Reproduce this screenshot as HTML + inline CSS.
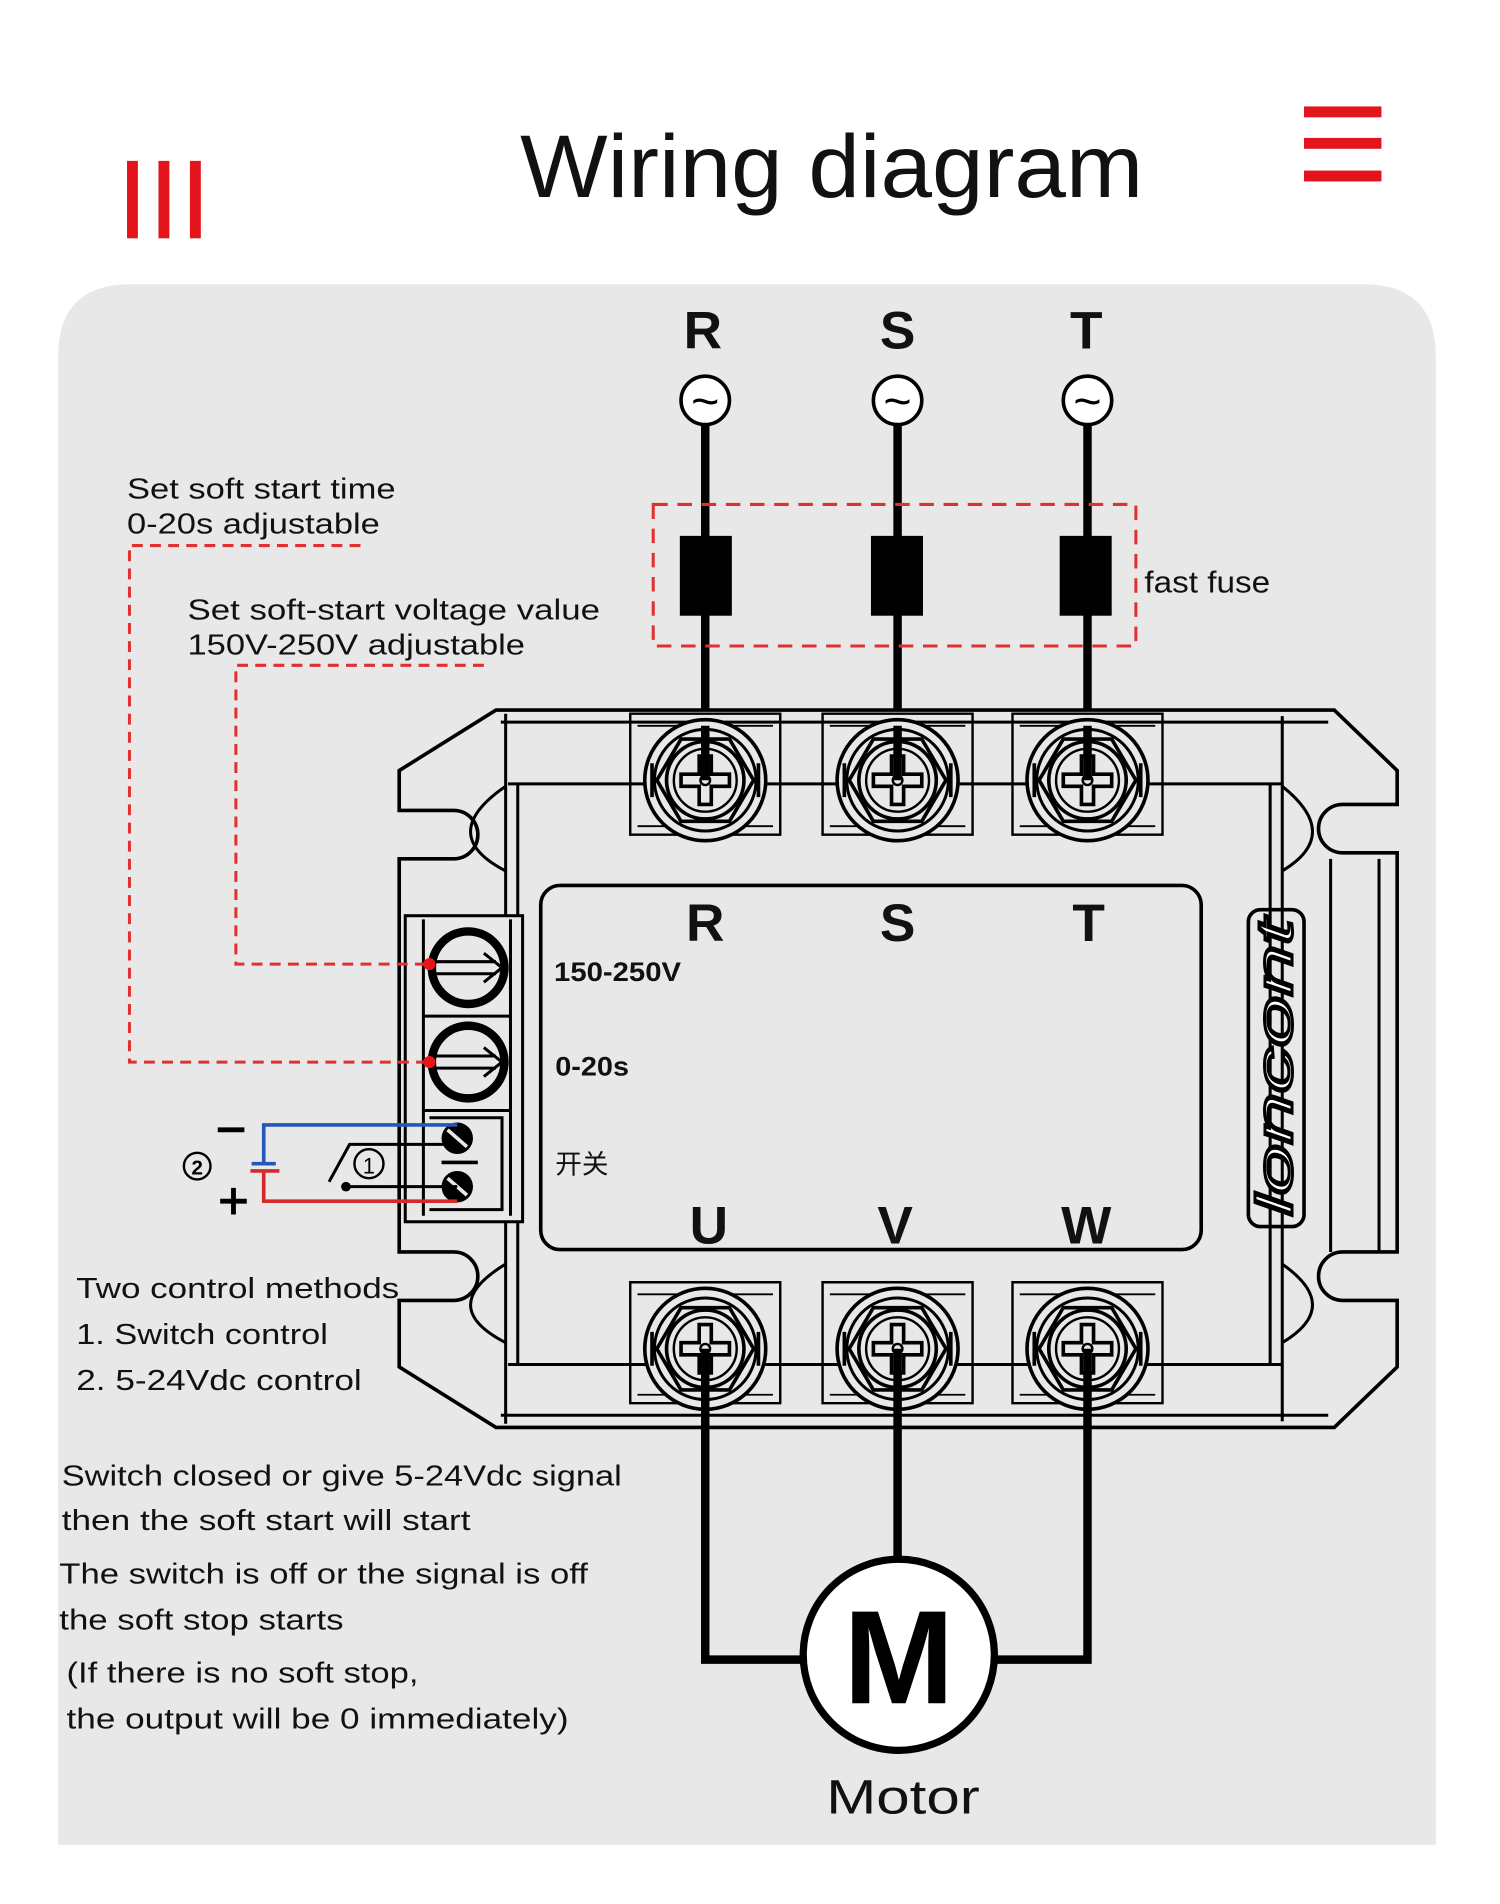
<!DOCTYPE html>
<html><head><meta charset="utf-8"><style>
html,body{margin:0;padding:0;background:#fff;}
svg{display:block;}
text{font-family:"Liberation Sans","Noto Sans CJK SC",sans-serif;}
</style></head><body>
<svg width="1500" height="1904" viewBox="0 0 1240 1574" xmlns="http://www.w3.org/2000/svg">
<defs>
<g id="term">
  <path d="M-62,-55 L62,-55 L62,45 L-62,45 Z" fill="none" stroke="#000" stroke-width="2"/>
  <path d="M-56,-45 L56,-45 M-56,38 L56,38" stroke="#000" stroke-width="1.5"/>
  <circle r="50" fill="#e8e8e8" stroke="#000" stroke-width="3"/>
  <path d="M-44,-14 L-44,14 M44,-14 L44,14" stroke="#000" stroke-width="3"/>
  <circle r="42" fill="none" stroke="#000" stroke-width="2.5"/>
  <polygon points="-40,0 -20,-34 20,-34 40,0 20,34 -20,34" fill="none" stroke="#000" stroke-width="3"/>
  <circle r="32" fill="none" stroke="#000" stroke-width="3"/>
  <circle r="26" fill="none" stroke="#000" stroke-width="2"/>
  <path d="M-5,-20 h10 v15 h15 v10 h-15 v15 h-10 v-15 h-15 v-10 h15 z" fill="#e8e8e8" stroke="#000" stroke-width="3"/>
  <circle r="4" fill="none" stroke="#000" stroke-width="2"/>
</g>
</defs>
<rect width="1240" height="1574" fill="#fff"/>
<path d="M48,1525 L48,295 Q48,235 108,235 L1127,235 Q1187,235 1187,295 L1187,1525 Z" fill="#e8e8e8"/>
<rect x="105" y="133" width="9" height="64" fill="#e3141b"/>
<rect x="131" y="133" width="9" height="64" fill="#e3141b"/>
<rect x="157" y="133" width="9" height="64" fill="#e3141b"/>
<rect x="1078" y="88" width="64" height="9" fill="#e3141b"/>
<rect x="1078" y="114" width="64" height="9" fill="#e3141b"/>
<rect x="1078" y="141" width="64" height="9" fill="#e3141b"/>
<text x="430" y="163" font-size="74" fill="#111" textLength="515" lengthAdjust="spacingAndGlyphs">Wiring diagram</text>

<g font-size="44" font-weight="bold" text-anchor="middle" fill="#111">
<text x="581" y="288">R</text><text x="742" y="288">S</text><text x="898" y="288">T</text>
</g>
<g fill="#fff" stroke="#000" stroke-width="3">
<circle cx="583" cy="331" r="20"/><circle cx="742" cy="331" r="20"/><circle cx="899" cy="331" r="20"/>
</g>
<g font-size="40" text-anchor="middle"><text x="583" y="345">~</text><text x="742" y="345">~</text><text x="899" y="345">~</text></g>
<g stroke="#000" stroke-width="7">
<line x1="583" y1="351" x2="583" y2="645"/><line x1="742" y1="351" x2="742" y2="645"/><line x1="899" y1="351" x2="899" y2="645"/>
</g>
<rect x="540" y="417" width="399" height="117" fill="none" stroke="#e03030" stroke-width="2.5" stroke-dasharray="12,8"/>
<rect x="562" y="443" width="43" height="66" fill="#000"/>
<rect x="720" y="443" width="43" height="66" fill="#000"/>
<rect x="876" y="443" width="43" height="66" fill="#000"/>
<text x="946" y="490" font-size="25" fill="#111" textLength="104" lengthAdjust="spacingAndGlyphs">fast fuse</text>

<path d="M410,587 L1103,587 L1155,637 L1155,665 L1110,665 A20,20 0 0 0 1110,705 L1155,705 L1155,1035 L1110,1035 A20,20 0 0 0 1110,1075 L1155,1075 L1155,1130 L1103,1180 L410,1180 L330,1130 L330,1075 L375,1075 A20,20 0 0 0 375,1035 L330,1035 L330,710 L375,710 A20,20 0 0 0 375,670 L330,670 L330,637 Z" fill="#e8e8e8" stroke="#000" stroke-width="3"/>
<g fill="none" stroke="#000" stroke-width="2.5">
<path d="M414,597 L1098,597 M420,648 L1060,648 M420,1128 L1060,1128 M414,1170 L1098,1170"/>
<path d="M418,590 L418,1177 M428,648 L428,1128 M1060,592 L1060,1175 M1050,648 L1050,1128"/>
<path d="M418,720 Q360,690 418,650 M418,1045 Q360,1080 418,1110"/>
<path d="M1060,720 Q1110,690 1060,650 M1060,1045 Q1110,1080 1060,1110"/>
<path d="M1100,710 L1100,1035 M1140,710 L1140,1035"/>
</g>
<rect x="447" y="732" width="546" height="301" rx="16" fill="none" stroke="#000" stroke-width="3"/>
<g font-size="44" font-weight="bold" text-anchor="middle" fill="#111">
<text x="583" y="778">R</text><text x="742" y="778">S</text><text x="900" y="778">T</text>
<text x="586" y="1028">U</text><text x="740" y="1028">V</text><text x="898" y="1028">W</text>
</g>
<rect x="1032" y="752" width="46" height="262" rx="10" fill="none" stroke="#000" stroke-width="3"/>
<text transform="translate(1068,1005) rotate(-90)" font-size="42" font-style="italic" fill="#fff" stroke="#000" stroke-width="2.5" textLength="245" lengthAdjust="spacingAndGlyphs">loncont</text>

<use href="#term" x="583" y="645"/><use href="#term" x="742" y="645"/><use href="#term" x="899" y="645"/>
<use href="#term" x="583" y="1115"/><use href="#term" x="742" y="1115"/><use href="#term" x="899" y="1115"/>
<g stroke="#000" stroke-width="7">
<line x1="583" y1="600" x2="583" y2="645"/><line x1="742" y1="600" x2="742" y2="645"/><line x1="899" y1="600" x2="899" y2="645"/>
</g>

<rect x="335" y="757" width="97" height="253" fill="#e8e8e8" stroke="#000" stroke-width="2.5"/>
<g fill="none" stroke="#000" stroke-width="2.5">
<path d="M350,760 L350,1005 M422,760 L422,1005 M350,840 L422,840 M350,918 L422,918 M355,924 L415,924 L415,1000 L355,1000"/>
</g>
<g fill="none" stroke="#000" stroke-width="7"><circle cx="387" cy="800" r="30"/><circle cx="387" cy="878" r="30"/></g>
<g fill="none" stroke="#000" stroke-width="2.5"><path d="M360,795 L410,795 M360,805 L410,805 M400,788 L415,800 L400,812 M360,873 L410,873 M360,883 L410,883 M400,866 L415,878 L400,890"/></g>
<g fill="#000"><circle cx="378" cy="941" r="13"/><circle cx="378" cy="981" r="13"/></g>
<g stroke="#e8e8e8" stroke-width="3"><line x1="370" y1="934" x2="386" y2="948"/><line x1="370" y1="974" x2="386" y2="988"/></g>
<line x1="365" y1="961" x2="395" y2="961" stroke="#000" stroke-width="3"/>
<g font-size="22" font-weight="bold" fill="#111">
<text x="458" y="811" textLength="105" lengthAdjust="spacingAndGlyphs">150-250V</text><text x="459" y="889" textLength="61" lengthAdjust="spacingAndGlyphs">0-20s</text><text x="459" y="970" font-weight="normal">开关</text>
</g>

<g fill="none" stroke="#e03030" stroke-width="2.5" stroke-dasharray="9,6">
<path d="M298,451 L107,451 L107,878 L355,878"/>
<path d="M400,550 L195,550 L195,797 L355,797"/>
</g>
<circle cx="355" cy="797" r="5" fill="#e8161b"/><circle cx="355" cy="878" r="5" fill="#e8161b"/>
<g font-size="24" fill="#111" lengthAdjust="spacingAndGlyphs">
<text x="105" y="412" textLength="222" lengthAdjust="spacingAndGlyphs">Set soft start time</text>
<text x="105" y="441" textLength="209" lengthAdjust="spacingAndGlyphs">0-20s adjustable</text>
<text x="155" y="512" textLength="341" lengthAdjust="spacingAndGlyphs">Set soft-start voltage value</text>
<text x="155" y="541" textLength="279" lengthAdjust="spacingAndGlyphs">150V-250V adjustable</text>
</g>

<path d="M378,930 L218,930 L218,962 M208,962 L228,962" fill="none" stroke="#2557b8" stroke-width="3"/>
<path d="M378,993 L218,993 L218,968 M207,968 L231,968" fill="none" stroke="#d42a2a" stroke-width="3"/>
<path d="M378,946 L289,946 L272,977 M286,981 L378,981" fill="none" stroke="#000" stroke-width="2.5"/>
<circle cx="286" cy="981" r="4" fill="#000"/>
<circle cx="305" cy="962" r="12" fill="none" stroke="#000" stroke-width="2"/>
<text x="305" y="970" font-size="18" text-anchor="middle">1</text>
<circle cx="163" cy="964" r="11" fill="none" stroke="#000" stroke-width="2"/>
<text x="163" y="971" font-size="17" font-weight="bold" text-anchor="middle">2</text>
<path d="M180,934 L202,934 M182,993 L204,993 M193,982 L193,1004" stroke="#000" stroke-width="4"/>

<g font-size="24" fill="#111">
<text x="63" y="1073" textLength="267" lengthAdjust="spacingAndGlyphs">Two control methods</text>
<text x="63" y="1111" textLength="208" lengthAdjust="spacingAndGlyphs">1. Switch control</text>
<text x="63" y="1149" textLength="236" lengthAdjust="spacingAndGlyphs">2. 5-24Vdc control</text>
<text x="51" y="1228" textLength="463" lengthAdjust="spacingAndGlyphs">Switch closed or give 5-24Vdc signal</text>
<text x="51" y="1265" textLength="338" lengthAdjust="spacingAndGlyphs">then the soft start will start</text>
<text x="49" y="1309" textLength="437" lengthAdjust="spacingAndGlyphs">The switch is off or the signal is off</text>
<text x="49" y="1347" textLength="235" lengthAdjust="spacingAndGlyphs">the soft stop starts</text>
<text x="55" y="1391" textLength="291" lengthAdjust="spacingAndGlyphs">(If there is no soft stop,</text>
<text x="55" y="1429" textLength="415" lengthAdjust="spacingAndGlyphs">the output will be 0 immediately)</text>
</g>

<g fill="none" stroke="#000" stroke-width="7">
<path d="M583,1115 L583,1372 L665,1372"/>
<path d="M899,1115 L899,1372 L822,1372"/>
<path d="M742,1115 L742,1290"/>
</g>
<circle cx="743" cy="1368" r="79" fill="#fff" stroke="#000" stroke-width="6"/>
<text x="743" y="1408" font-size="110" font-weight="bold" text-anchor="middle" fill="#000">M</text>
<text x="683" y="1499" font-size="40" fill="#111" textLength="127" lengthAdjust="spacingAndGlyphs">Motor</text>
</svg>
</body></html>
